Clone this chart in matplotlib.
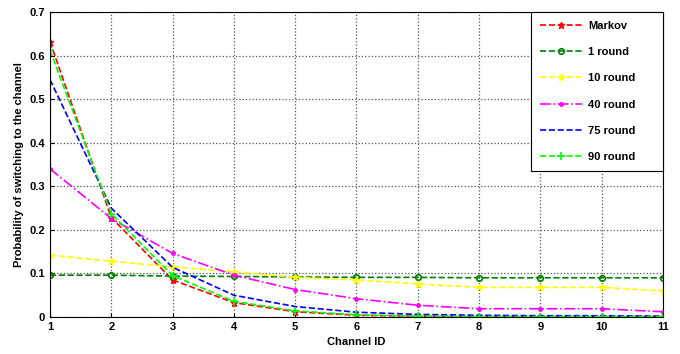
import numpy as np
import matplotlib
matplotlib.use('Agg')
import matplotlib.pyplot as plt

plt.rcParams['font.family'] = ['Liberation Sans', 'DejaVu Sans']
plt.rcParams['font.weight'] = 'bold'

channels = np.arange(1, 12)
markov = [0.632, 0.228, 0.085, 0.033, 0.012, 0.004, 0.002, 0.001, 0.001, 0.001, 0.001]
round1 = [0.096, 0.096, 0.094, 0.093, 0.092, 0.091, 0.091, 0.090, 0.090, 0.090, 0.090]
round10 = [0.142, 0.128, 0.115, 0.104, 0.091, 0.085, 0.076, 0.068, 0.068, 0.068, 0.060]
round40 = [0.340, 0.226, 0.146, 0.096, 0.063, 0.042, 0.027, 0.019, 0.019, 0.019, 0.012]
round75 = [0.545, 0.250, 0.114, 0.050, 0.024, 0.011, 0.006, 0.004, 0.003, 0.003, 0.002]
round90 = [0.612, 0.237, 0.095, 0.036, 0.014, 0.005, 0.002, 0.001, 0.001, 0.001, 0.001]

fig = plt.figure(figsize=(6.8, 3.54), dpi=100)
ax = fig.add_axes([0.0735, 0.1045, 0.9015, 0.8615])

ax.plot(channels, markov, color='red', ls='--', marker='*', ms=5, lw=1.2, label='Markov')
ax.plot(channels, round1, color='#008000', ls='--', marker='o', ms=4, mfc='none', mew=1.2, lw=1.2, label='1 round')
ax.plot(channels, round10, color='yellow', ls='--', marker='*', ms=5, lw=1.2, label='10 round')
ax.plot(channels, round40, color='magenta', ls='-.', marker='.', ms=5, lw=1.2, label='40 round')
ax.plot(channels, round75, color='blue', ls='--', lw=1.2, label='75 round')
ax.plot(channels, round90, color='lime', ls='--', marker='+', ms=6, mew=1.2, lw=1.2, label='90 round')

ax.set_xlim(1, 11)
ax.set_ylim(0, 0.7)
ax.set_xticks(channels)
ax.set_yticks(np.arange(0, 0.71, 0.1))
ax.set_yticklabels(['0', '0.1', '0.2', '0.3', '0.4', '0.5', '0.6', '0.7'])
ax.tick_params(labelsize=8, direction='in', length=3)
ax.grid(True, color='#555555', ls=':', lw=0.9)
for s in ax.spines.values():
    s.set_linewidth(0.8)

ax.set_xlabel('Channel ID', fontsize=8, fontweight='bold')
ax.set_ylabel('Probability of switching to the channel', fontsize=8, fontweight='bold')

leg = ax.legend(loc='upper left', bbox_to_anchor=(0.785, 0.5, 0.215, 0.5), mode='expand',
                fontsize=8, frameon=True, fancybox=False,
                edgecolor='black', borderaxespad=0, labelspacing=1.46,
                borderpad=0.8, handlelength=3.8, handletextpad=0.5, framealpha=1)
leg.get_frame().set_linewidth(0.8)

fig.savefig('out.png', dpi=100)
